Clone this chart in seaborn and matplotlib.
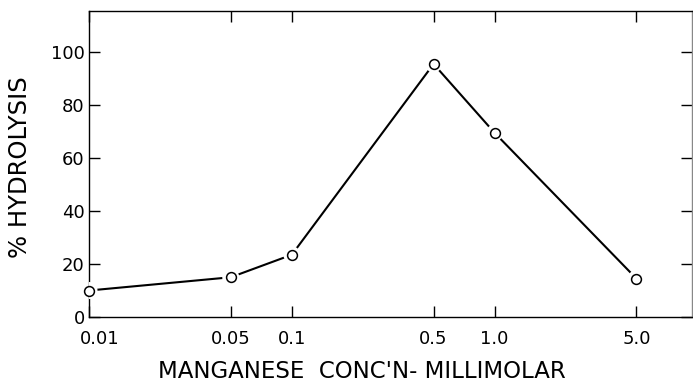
import matplotlib
matplotlib.use("Agg")
import matplotlib.pyplot as plt
import matplotlib.transforms as mtransforms
import seaborn as sns
import pandas as pd

# Manganese concentration (mM) and resulting hydrolysis (%)
conc_mm = [0.01, 0.05, 0.1, 0.5, 1.0, 5.0]
hydrolysis_pct = [10, 15, 23.5, 95.5, 69.5, 14.5]
x_tick_labels = ["0.01", "0.05", "0.1", "0.5", "1.0", "5.0"]
y_ticks = [0, 20, 40, 60, 80, 100]

df = pd.DataFrame({"conc": conc_mm, "hydrolysis": hydrolysis_pct})

sns.set_style("ticks")
plt.rcParams["font.family"] = ["DejaVu Sans"]

fig = plt.figure(figsize=(6.93, 3.82), dpi=100)
ax = fig.add_axes([89 / 693, 1 - 317 / 382, (692 - 89) / 693, (317 - 11) / 382])

sns.lineplot(data=df, x="conc", y="hydrolysis", ax=ax, color="black",
             linewidth=1.5, zorder=2)
# white halo so the connecting line stops short of each open circle
sns.scatterplot(data=df, x="conc", y="hydrolysis", ax=ax, s=150,
                color="white", edgecolor="none", zorder=3)
sns.scatterplot(data=df, x="conc", y="hydrolysis", ax=ax, s=50,
                facecolor="white", edgecolor="black", linewidth=1.1,
                zorder=4, clip_on=False)

ax.set_xscale("log")
ax.set_xlim(0.01, 9.4)
ax.set_ylim(0, 115.5)
ax.set_xticks(conc_mm)
ax.set_xticklabels(x_tick_labels)
ax.minorticks_off()
ax.set_yticks(y_ticks)
ax.set_yticklabels([str(v) for v in y_ticks])

ax.tick_params(axis="both", direction="in", length=8, width=1.0,
               colors="black", labelsize=13, top=True, right=True)
ax.tick_params(axis="y", pad=3)
ax.tick_params(axis="x", pad=9)

# nudge the first x label off the corner
first = ax.get_xticklabels()[0]
first.set_transform(first.get_transform() +
                    mtransforms.ScaledTranslation(11 / 100, 0, fig.dpi_scale_trans))

for side in ["left", "right", "top", "bottom"]:
    ax.spines[side].set_linewidth(1.0)
    ax.spines[side].set_color("black")
ax.spines["right"].set_color("#888888")

ax.set_xlabel("MANGANESE  CONC'N- MILLIMOLAR", fontsize=16.5, color="black")
ax.set_ylabel("% HYDROLYSIS", fontsize=17.5, color="black")
ax.xaxis.set_label_coords(0.453, -0.140)
ax.yaxis.set_label_coords(-0.0945, 0.49)

fig.savefig("out.png", dpi=100)
